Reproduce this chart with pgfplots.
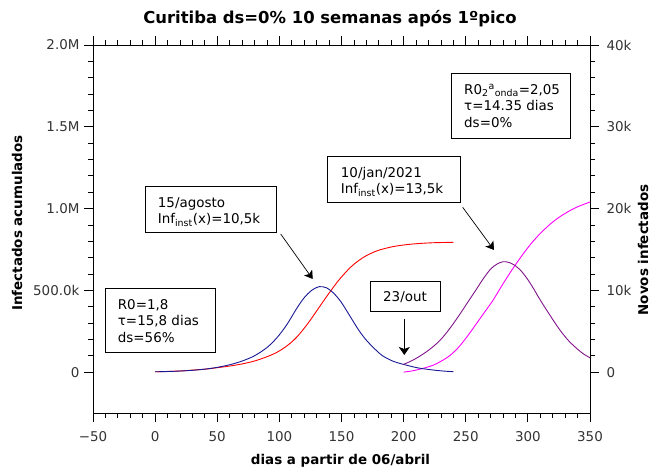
\documentclass[border=0pt]{standalone}
\usepackage{pgfplots}
\pgfplotsset{compat=1.18}
\usepackage{fontspec}
\setmainfont{DejaVu Sans}
\usetikzlibrary{arrows.meta}
\definecolor{cred}{RGB}{255,0,0}
\definecolor{cblue}{RGB}{25,25,150}
\definecolor{cpurple}{RGB}{130,20,140}
\definecolor{cmag}{RGB}{255,0,255}
\newcommand{\tf}{\fontsize{13.5}{16.5}\selectfont}
\begin{document}
\begin{tikzpicture}[x=1bp,y=1bp,font=\tf]
\fill[white] (-93,-58) rectangle (557,413);
\path[use as bounding box] (-93,-58) rectangle (557,413);
\begin{axis}[
  at={(0,0)}, anchor=south west, scale only axis,
  width=497bp, height=368bp,
  xmin=-50, xmax=350, ymin=-0.25, ymax=2.0,
  xtick={-50,0,50,100,150,200,250,300,350},
  xticklabels={−50,0,50,100,150,200,250,300,350},
  minor x tick num=4,
  ytick={0,0.5,1,1.5,2},
  yticklabels={0,500.0k,1.0M,1.5M,2.0M},
  minor y tick num=4,
  ytick pos=left, xtick pos=both,
  tick align=outside,
  major tick length=9bp, minor tick length=5bp,
  tick style={black, line width=0.8bp},
  axis line style={line width=0.8bp},
  every tick label/.append style={font=\tf, text=black!80},
  xticklabel style={yshift=-6bp},
  yticklabel style={xshift=-1bp},
  clip=false,
]
\addplot[cred, line width=0.9bp, smooth] coordinates {
(0,0.002)(20,0.007)(40,0.018)(50,0.027)(60,0.037)(70,0.050)(80,0.068)(90,0.094)
(98,0.121)(106,0.160)(114,0.214)(123,0.298)(132,0.396)(140,0.483)(148,0.564)(157,0.639)
(164,0.683)(170,0.712)(177,0.737)(183,0.752)(192,0.768)(202,0.779)(212,0.786)(224,0.791)(240,0.7935)};
\addplot[cmag, line width=0.9bp, smooth] coordinates {
(200,0.0)(206,0.006)(212,0.016)(218,0.028)(224,0.043)(230,0.066)(237,0.10)(244,0.15)
(251,0.216)(258,0.29)(265,0.365)(272,0.44)(280,0.54)(288,0.634)(295,0.71)(302,0.78)
(310,0.848)(318,0.905)(325,0.946)(331,0.975)(337,1.0)(343,1.02)(350,1.04)};
\end{axis}
\begin{axis}[
  at={(0,0)}, anchor=south west, scale only axis,
  width=497bp, height=368bp,
  xmin=-50, xmax=350, ymin=-5, ymax=40,
  axis x line=none, axis y line*=right,
  ytick={0,10,20,30,40},
  yticklabels={0,10k,20k,30k,40k},
  minor y tick num=4,
  tick align=outside,
  major tick length=9bp, minor tick length=5bp,
  tick style={black, line width=0.8bp},
  axis line style={line width=0.8bp},
  every tick label/.append style={font=\tf, text=black!80},
  yticklabel style={xshift=4bp},
]
\addplot[cblue, line width=0.9bp, smooth] coordinates {
(0,0.04)(10,0.07)(20,0.13)(30,0.22)(40,0.36)(50,0.58)(60,0.9)(70,1.35)(80,2.0)(90,3.0)
(98,4.2)(106,5.8)(114,7.8)(120,9.1)(126,10.0)(132,10.45)(138,10.3)(144,9.6)(150,8.5)
(157,6.8)(164,5.1)(170,3.9)(177,2.8)(183,2.0)(192,1.3)(202,0.86)(212,0.5)(224,0.25)(232,0.13)(240,0.05)};
\addplot[cpurple, line width=0.9bp, smooth] coordinates {
(200,0.95)(206,1.35)(212,1.85)(218,2.45)(224,3.15)(230,4.0)(237,5.3)(244,6.8)(251,8.4)
(258,10.0)(264,11.4)(270,12.6)(275,13.2)(280,13.5)(285,13.4)(290,13.0)(295,12.3)
(300,11.3)(305,10.1)(310,8.8)(318,6.9)(326,5.1)(333,3.8)(340,2.8)(345,2.2)(350,1.75)};
\end{axis}
% labels
\node[anchor=base, font=\bfseries\fontsize{16.5}{19}\selectfont] at (237,389) {Curitiba ds=0\% 10 semanas após 1ºpico};
\node[anchor=base, font=\bfseries\fontsize{13.5}{16}\selectfont] at (247.5,-52) {dias a partir de 06/abril};
\node[rotate=90, font=\bfseries\fontsize{13.5}{16}\selectfont] at (-76,190) {Infectados acumulados};
\node[rotate=90, font=\bfseries\fontsize{13.5}{16}\selectfont] at (550,163) {Novos infectados};
% box 1
\draw[line width=0.8bp] (12.7,60.3) rectangle (122.7,124.7);
\node[anchor=base west, inner sep=0] at (24.7,103.7) {R0=1,8};
\node[anchor=base west, inner sep=0] at (24.7,87) {τ=15,8 dias};
\node[anchor=base west, inner sep=0] at (24.7,70) {ds=56\%};
% box 2
\draw[line width=0.8bp] (52,180.7) rectangle (183.7,227);
\node[anchor=base west, inner sep=0] at (64.7,205.5) {15/agosto};
\node[anchor=base west, inner sep=0] at (64.7,189) {Inf\textsubscript{inst}(x)=10,5k};
% box 3
\draw[line width=0.8bp] (234.3,210.3) rectangle (367,257);
\node[anchor=base west, inner sep=0] at (247.7,235.5) {10/jan/2021};
\node[anchor=base west, inner sep=0] at (247.7,219) {Inf\textsubscript{inst}(x)=13,5k};
% box 4
\draw[line width=0.8bp] (358.7,274.7) rectangle (477,339.7);
\node[anchor=base west, inner sep=0] at (371,318.7) {R0\textsubscript{2}\textsuperscript{a}\textsubscript{onda}=2,05};
\node[anchor=base west, inner sep=0] at (371,302) {τ=14.35 dias};
\node[anchor=base west, inner sep=0] at (371,285.2) {ds=0\%};
% box 5
\draw[line width=0.8bp] (277,101.3) rectangle (347,131.3);
\node[anchor=base, inner sep=0] at (312,111.3) {23/out};
% arrows
\draw[line width=0.7bp, -{Stealth[length=8bp,width=10bp,inset=2bp]}] (187.7,179) -- (219.7,134);
\draw[line width=0.7bp, -{Stealth[length=8bp,width=10bp,inset=2bp]}] (369.7,205.7) -- (401,163);
\draw[line width=0.8bp, -{Stealth[length=8bp,width=11bp,inset=2bp]}] (311.3,93.7) -- (311.3,58);
\end{tikzpicture}
\end{document}
